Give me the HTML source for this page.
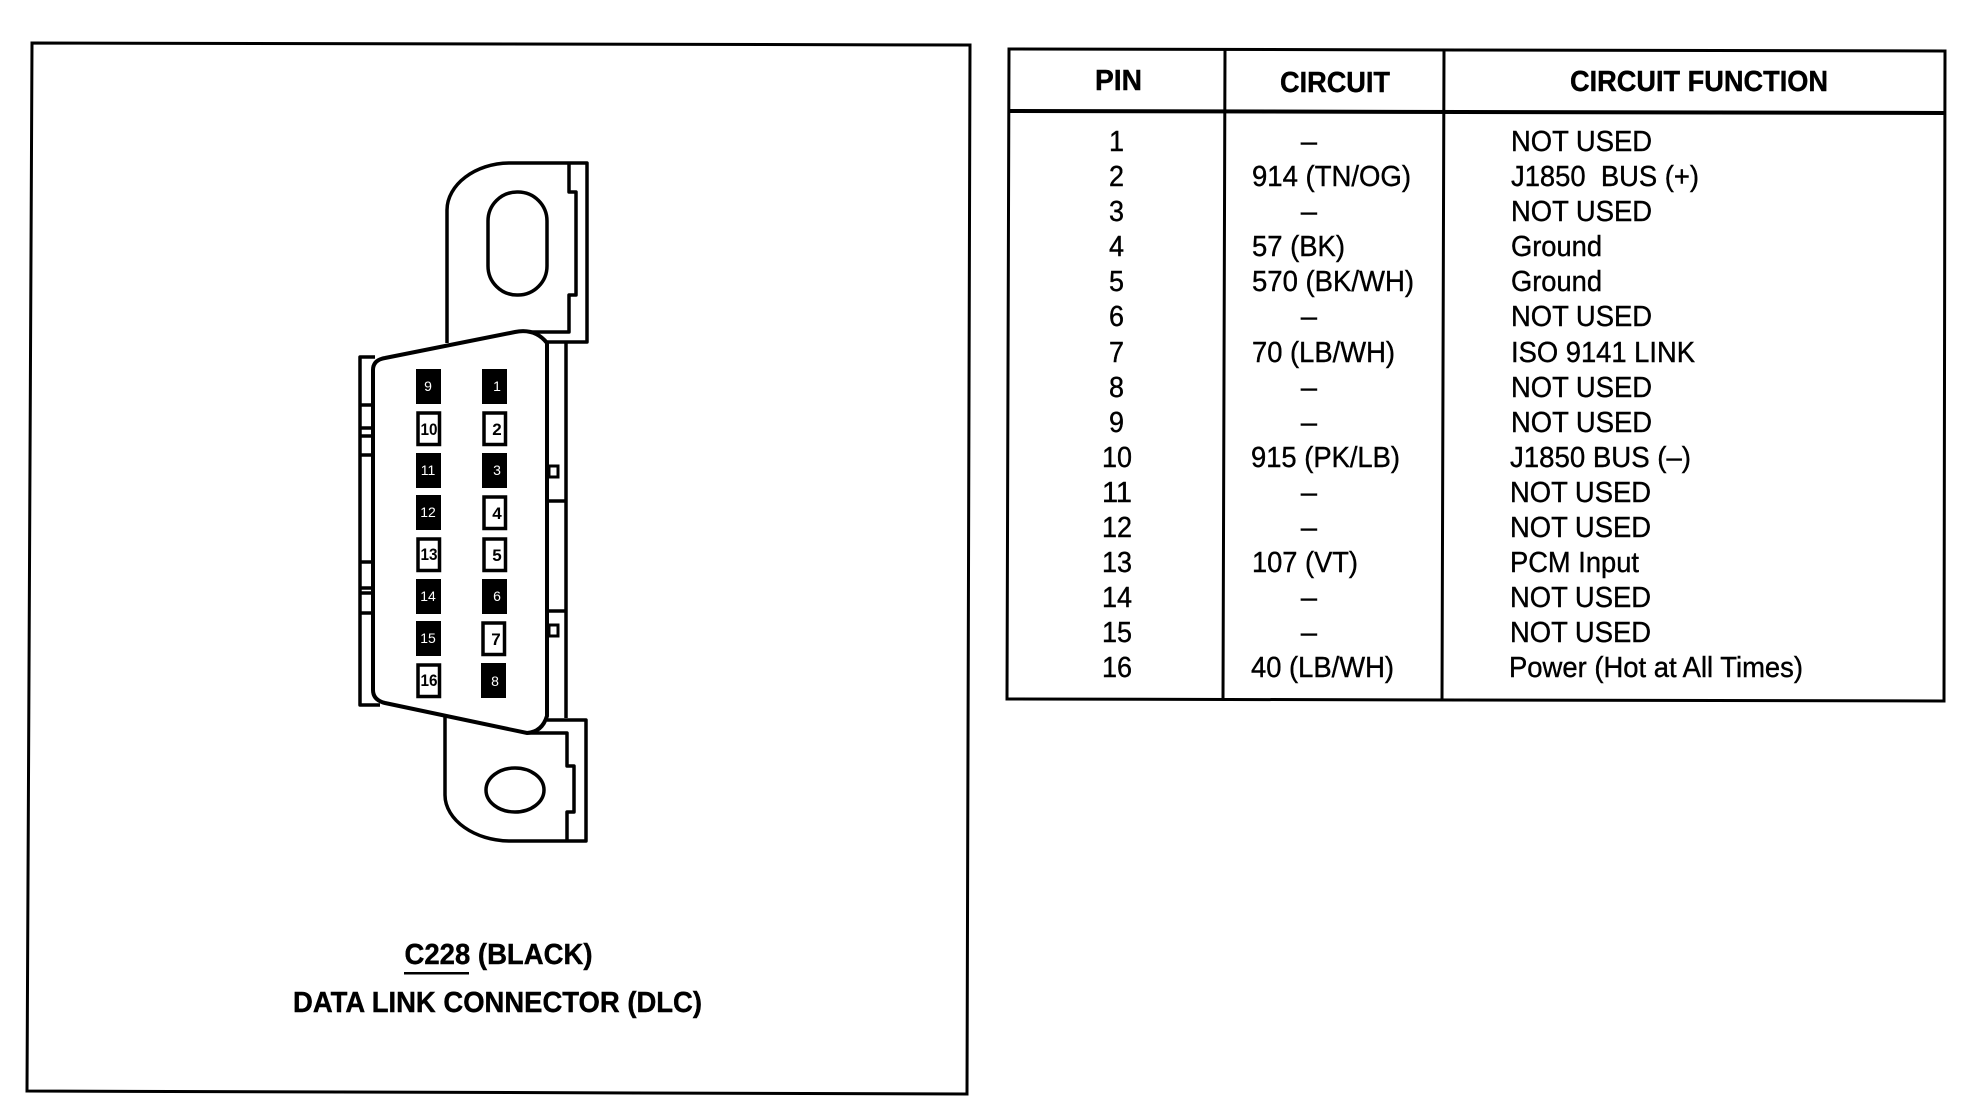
<!DOCTYPE html>
<html><head><meta charset="utf-8"><style>
html,body{margin:0;padding:0;background:#fff}
svg{display:block}
text{font-family:"Liberation Sans",sans-serif;fill:#000}
.r{font-size:29px;stroke:#000;stroke-width:.4}
.b{font-size:28.500px;font-weight:bold;stroke:#000;stroke-width:.4}
.m{text-anchor:middle}
.w{font-size:14px;fill:#fff;text-anchor:middle}
.k{font-size:17px;font-weight:bold;text-anchor:middle}
.l{fill:none;stroke:#000;stroke-width:3.5;stroke-linejoin:round}
.t{fill:none;stroke:#000;stroke-width:3}
</style></head><body>
<svg width="1970" height="1120" viewBox="0 0 1970 1120" xmlns="http://www.w3.org/2000/svg">
<rect width="1970" height="1120" fill="#fff"/>
<!-- left frame -->
<polygon class="t" points="32,43 970,45 967,1094 27,1091"/>
<!-- top tab -->
<path class="l" d="M447,343 V210 C447,185 475,163 510,163 H587 V342 H547"/>
<path class="l" d="M569,163 V192 H576 V295 H569 V332 H530"/>
<rect class="l" x="488" y="192" width="59" height="103" rx="29" ry="29"/>
<!-- bottom tab -->
<path class="l" d="M445,716 V795 C445,820 475,841 510,841 H586 V720 H547"/>
<path class="l" d="M527,733 H567 V766 H574 V812 H567 V841"/>
<ellipse class="l" cx="515" cy="790" rx="29" ry="22"/>
<!-- left strip -->
<path class="l" d="M375,357 H360 V705 H380"/>
<path class="l" d="M361,405 H372 M361,428 H372 M361,436 H372 M361,455 H372 M361,562 H372 M361,588 H372 M361,593 H372 M361,613 H372"/>
<!-- right strip -->
<path class="l" d="M566,342 V718"/>
<path class="l" d="M547,501 H566 M547,611 H566"/>
<rect x="549" y="466" width="9" height="11" fill="#fff" stroke="#000" stroke-width="3"/>
<rect x="549" y="625" width="9" height="11" fill="#fff" stroke="#000" stroke-width="3"/>
<!-- body -->
<path d="M385,358 L515,332 Q535,328 547,343 V716 Q542,732 527,733 L385,703 Q373,700 373,690 V370 Q373,360 385,358 Z" fill="#fff" stroke="#000" stroke-width="4"/>
<!-- pins -->
<g fill="#000">
<rect x="416" y="369" width="25" height="35"/>
<rect x="416" y="453" width="25" height="35"/>
<rect x="416" y="495" width="25" height="35"/>
<rect x="416" y="579" width="25" height="35"/>
<rect x="416" y="621" width="25" height="35"/>
<rect x="482" y="369" width="25" height="35"/>
<rect x="482" y="453" width="25" height="35"/>
<rect x="482" y="579" width="25" height="35"/>
<rect x="481" y="663" width="25" height="35"/>
</g>
<g fill="#fff" stroke="#000" stroke-width="3.5">
<rect x="418" y="413" width="21.500" height="31.500"/>
<rect x="418" y="539" width="21.500" height="31.500"/>
<rect x="418" y="665" width="21.500" height="31.500"/>
<rect x="484" y="413" width="21.500" height="31.500"/>
<rect x="484" y="497" width="21.500" height="31.500"/>
<rect x="484" y="539" width="21.500" height="31.500"/>
<rect x="483" y="623" width="21.500" height="31.500"/>
</g>
<text class="w" x="428" y="391">9</text>
<text class="w" x="428" y="475">11</text>
<text class="w" x="428" y="517">12</text>
<text class="w" x="428" y="601">14</text>
<text class="w" x="428" y="643">15</text>
<text class="w" x="497" y="391">1</text>
<text class="w" x="497" y="475">3</text>
<text class="w" x="497" y="601">6</text>
<text class="w" x="495" y="686">8</text>
<text class="k" x="429" y="435" textLength="17" lengthAdjust="spacingAndGlyphs">10</text>
<text class="k" x="429" y="560" textLength="17" lengthAdjust="spacingAndGlyphs">13</text>
<text class="k" x="429" y="686" textLength="17" lengthAdjust="spacingAndGlyphs">16</text>
<text class="k" x="497" y="435">2</text>
<text class="k" x="497" y="519">4</text>
<text class="k" x="497" y="561">5</text>
<text class="k" x="496" y="645">7</text>
<!-- labels -->
<text class="b" x="404.500" y="964" textLength="188" lengthAdjust="spacingAndGlyphs">C228 (BLACK)</text>
<rect x="404" y="972" width="65" height="2.500" fill="#000"/>
<text class="b" x="293" y="1012" textLength="409" lengthAdjust="spacingAndGlyphs">DATA LINK CONNECTOR (DLC)</text>
<!-- table -->
<polygon class="t" points="1009,49 1945,51 1944,701 1007,699"/>
<path d="M1009,111 L1945,113" stroke="#000" stroke-width="4" fill="none"/>
<path class="t" d="M1225,50 L1223,700 M1444,50 L1442,701"/>
<text class="b" x="1095" y="90" textLength="47" lengthAdjust="spacingAndGlyphs">PIN</text>
<text class="b" x="1280" y="92" textLength="110" lengthAdjust="spacingAndGlyphs">CIRCUIT</text>
<text class="b" x="1570" y="91" textLength="258" lengthAdjust="spacingAndGlyphs">CIRCUIT FUNCTION</text>
<!-- pin numbers -->
<text class="r" x="1109" y="151" textLength="15" lengthAdjust="spacingAndGlyphs">1</text>
<text class="r" x="1109" y="186" textLength="15" lengthAdjust="spacingAndGlyphs">2</text>
<text class="r" x="1109" y="221" textLength="15" lengthAdjust="spacingAndGlyphs">3</text>
<text class="r" x="1109" y="256" textLength="15" lengthAdjust="spacingAndGlyphs">4</text>
<text class="r" x="1109" y="291" textLength="15" lengthAdjust="spacingAndGlyphs">5</text>
<text class="r" x="1109" y="326" textLength="15" lengthAdjust="spacingAndGlyphs">6</text>
<text class="r" x="1109" y="362" textLength="15" lengthAdjust="spacingAndGlyphs">7</text>
<text class="r" x="1109" y="397" textLength="15" lengthAdjust="spacingAndGlyphs">8</text>
<text class="r" x="1109" y="432" textLength="15" lengthAdjust="spacingAndGlyphs">9</text>
<text class="r" x="1102" y="467" textLength="30" lengthAdjust="spacingAndGlyphs">10</text>
<text class="r" x="1102" y="502" textLength="30" lengthAdjust="spacingAndGlyphs">11</text>
<text class="r" x="1102" y="537" textLength="30" lengthAdjust="spacingAndGlyphs">12</text>
<text class="r" x="1102" y="572" textLength="30" lengthAdjust="spacingAndGlyphs">13</text>
<text class="r" x="1102" y="607" textLength="30" lengthAdjust="spacingAndGlyphs">14</text>
<text class="r" x="1102" y="642" textLength="30" lengthAdjust="spacingAndGlyphs">15</text>
<text class="r" x="1102" y="677" textLength="30" lengthAdjust="spacingAndGlyphs">16</text>
<!-- circuit -->
<text class="r m" x="1309" y="151">–</text>
<text class="r" x="1252" y="186" textLength="159" lengthAdjust="spacingAndGlyphs">914 (TN/OG)</text>
<text class="r m" x="1309" y="221">–</text>
<text class="r" x="1252" y="256" textLength="93" lengthAdjust="spacingAndGlyphs">57 (BK)</text>
<text class="r" x="1252" y="291" textLength="162" lengthAdjust="spacingAndGlyphs">570 (BK/WH)</text>
<text class="r m" x="1309" y="326">–</text>
<text class="r" x="1252" y="362" textLength="143" lengthAdjust="spacingAndGlyphs">70 (LB/WH)</text>
<text class="r m" x="1309" y="397">–</text>
<text class="r m" x="1309" y="432">–</text>
<text class="r" x="1251" y="467" textLength="149" lengthAdjust="spacingAndGlyphs">915 (PK/LB)</text>
<text class="r m" x="1309" y="502">–</text>
<text class="r m" x="1309" y="537">–</text>
<text class="r" x="1252" y="572" textLength="106" lengthAdjust="spacingAndGlyphs">107 (VT)</text>
<text class="r m" x="1309" y="607">–</text>
<text class="r m" x="1309" y="642">–</text>
<text class="r" x="1251" y="677" textLength="143" lengthAdjust="spacingAndGlyphs">40 (LB/WH)</text>
<!-- function -->
<text class="r" x="1511" y="151" textLength="141" lengthAdjust="spacingAndGlyphs">NOT USED</text>
<text class="r" x="1511" y="186" textLength="188" lengthAdjust="spacingAndGlyphs" xml:space="preserve">J1850  BUS (+)</text>
<text class="r" x="1511" y="221" textLength="141" lengthAdjust="spacingAndGlyphs">NOT USED</text>
<text class="r" x="1511" y="256" textLength="91" lengthAdjust="spacingAndGlyphs">Ground</text>
<text class="r" x="1511" y="291" textLength="91" lengthAdjust="spacingAndGlyphs">Ground</text>
<text class="r" x="1511" y="326" textLength="141" lengthAdjust="spacingAndGlyphs">NOT USED</text>
<text class="r" x="1511" y="362" textLength="184" lengthAdjust="spacingAndGlyphs">ISO 9141 LINK</text>
<text class="r" x="1511" y="397" textLength="141" lengthAdjust="spacingAndGlyphs">NOT USED</text>
<text class="r" x="1511" y="432" textLength="141" lengthAdjust="spacingAndGlyphs">NOT USED</text>
<text class="r" x="1510" y="467" textLength="181" lengthAdjust="spacingAndGlyphs">J1850 BUS (–)</text>
<text class="r" x="1510" y="502" textLength="141" lengthAdjust="spacingAndGlyphs">NOT USED</text>
<text class="r" x="1510" y="537" textLength="141" lengthAdjust="spacingAndGlyphs">NOT USED</text>
<text class="r" x="1510" y="572" textLength="129" lengthAdjust="spacingAndGlyphs">PCM Input</text>
<text class="r" x="1510" y="607" textLength="141" lengthAdjust="spacingAndGlyphs">NOT USED</text>
<text class="r" x="1510" y="642" textLength="141" lengthAdjust="spacingAndGlyphs">NOT USED</text>
<text class="r" x="1509" y="677" textLength="294" lengthAdjust="spacingAndGlyphs">Power (Hot at All Times)</text>
</svg>
</body></html>
